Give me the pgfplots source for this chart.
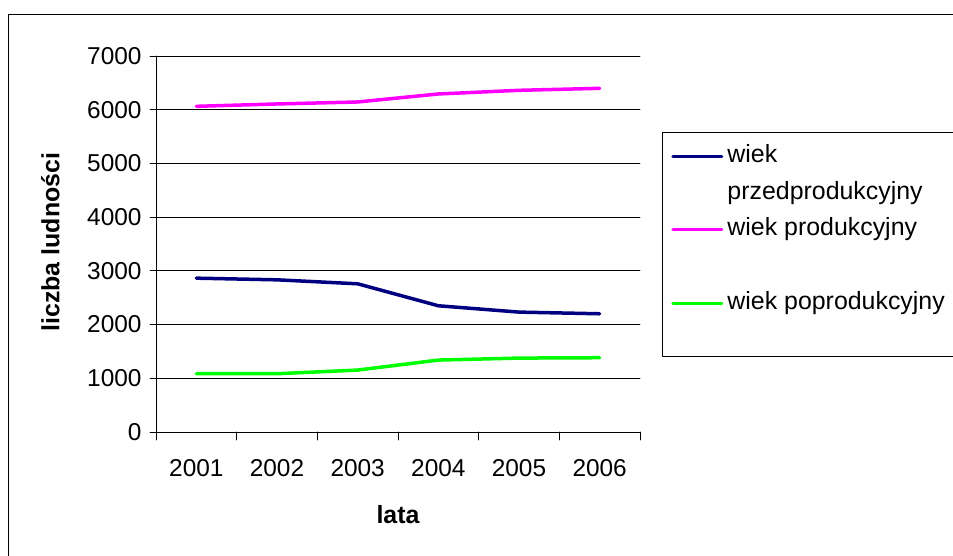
\documentclass[border=0pt]{standalone}
\usepackage{pgfplots}
\pgfplotsset{compat=1.18}
\usepackage{fontspec}
\setmainfont{Liberation Sans}
\definecolor{navyl}{RGB}{0,0,128}
\definecolor{magl}{RGB}{255,0,255}
\definecolor{greenl}{RGB}{0,255,0}
\begin{document}
\begin{tikzpicture}[font=\fontsize{24}{29}\selectfont]
\useasboundingbox (0bp,0bp) rectangle (953bp,556bp);
\draw[line width=1bp] (8.5bp,-10bp) -- (8.5bp,541.5bp) -- (970bp,541.5bp);
\begin{axis}[
  at={(156bp,124bp)}, anchor=south west,
  scale only axis, width=484bp, height=376bp,
  xmin=0.5, xmax=6.5, ymin=0, ymax=7000,
  xtick={1,2,3,4,5,6},
  xticklabels={2001,2002,2003,2004,2005,2006},
  minor xtick={0.5,1.5,2.5,3.5,4.5,5.5,6.5},
  ytick={0,1000,2000,3000,4000,5000,6000,7000},
  /pgf/number format/1000 sep={},
  /pgf/number format/assume math mode=true,
  axis x line*=bottom, axis y line*=left,
  axis line style={-,black,line width=0.9bp},
  tick align=outside,
  major x tick style={draw=none},
  minor x tick style={black,line width=0.9bp},
  major y tick style={black,line width=0.9bp},
  major tick length=6bp, minor tick length=8bp,
  ymajorgrids, major grid style={black,line width=0.9bp},
  tick label style={font=\fontsize{24.5}{29}\selectfont},
  xticklabel style={yshift=-18bp},
  yticklabel style={xshift=-5bp},
  xlabel={lata},
  xlabel style={at={(axis description cs:0.5,-0.221)},anchor=center,font=\fontsize{25}{30}\selectfont\bfseries},
  ylabel={liczba ludności},
  ylabel style={at={(axis description cs:-0.218,0.505)},anchor=center,font=\fontsize{25}{30}\selectfont\bfseries},
  legend style={at={(axis description cs:1.0455,0.798)},anchor=north west,
    draw=black,line width=0.9bp,inner xsep=9bp,inner ysep=3bp,
    row sep=2.75bp,column sep=4bp,
    nodes={inner sep=0pt,anchor=base west,text height=27bp,text depth=7bp},
    font=\fontsize{25}{33}\selectfont},
  legend cell align=left,
  legend image code/.code={\draw[#1,line width=3bp,line cap=round] (0bp,6bp) -- (49bp,6bp);},
  line join=round, line cap=round,
]
\addplot[navyl,line width=3.5bp] coordinates {(1,2864) (2,2833) (3,2759) (4,2350) (5,2232) (6,2201)};
\addlegendentry{\makebox[240bp][l]{wiek}}
\addlegendimage{empty legend}
\addlegendentry{przedprodukcyjny}
\addplot[magl,line width=3.5bp] coordinates {(1,6063) (2,6107) (3,6144) (4,6293) (5,6361) (6,6398)};
\addlegendentry{wiek produkcyjny}
\addlegendimage{empty legend}
\addlegendentry{}
\addplot[greenl,line width=3.5bp] coordinates {(1,1085) (2,1085) (3,1153) (4,1339) (5,1376) (6,1383)};
\addlegendentry{wiek poprodukcyjny}
\addlegendimage{empty legend}
\addlegendentry{}
\end{axis}
\end{tikzpicture}
\end{document}
